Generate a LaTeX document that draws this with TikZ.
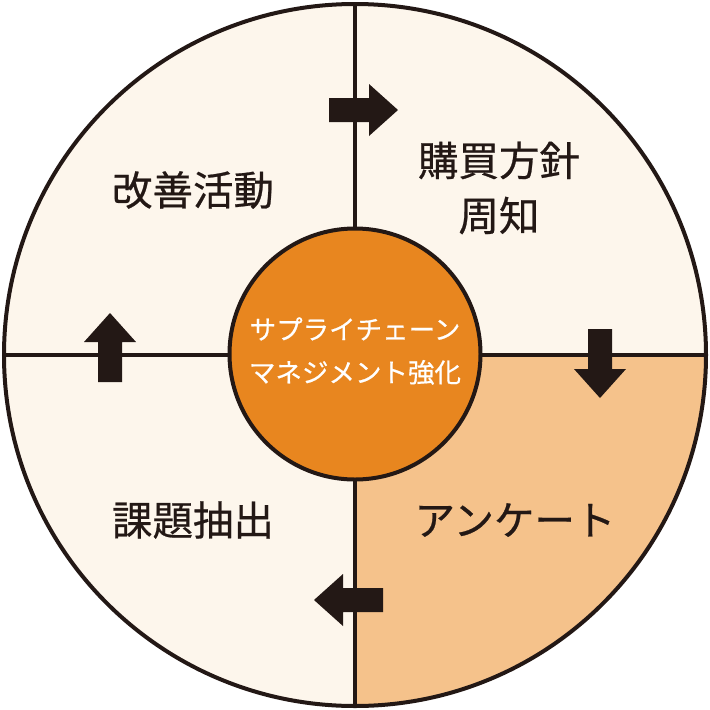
\documentclass[tikz,border=0pt]{standalone}
\usepackage{fontspec}
\setmainfont{Noto Sans CJK JP}
\newfontfamily\medfont{Noto Sans CJK JP}[FakeBold=0.6]
\definecolor{cream}{HTML}{FDF6EC}
\definecolor{peach}{HTML}{F5C28B}
\definecolor{core}{HTML}{E8861F}
\definecolor{ink}{HTML}{231815}
\tikzset{
  lbl/.style={text=ink, font=\medfont\fontsize{40.5}{55}\selectfont, align=center, inner sep=0pt},
  corelbl/.style={text=white, font=\medfont\fontsize{26.5}{43}\selectfont, align=center, inner sep=0pt},
  blk/.style={fill=ink, draw=none},
  rim/.style={draw=ink, line width=4pt},
  divider/.style={draw=ink, line width=4pt}
}
\begin{document}
\begin{tikzpicture}[x=1pt,y=-1pt]
\useasboundingbox (0,0) rectangle (710,710);
\coordinate (c) at (355,355);
% quadrants
\fill[cream] (c) circle[radius=351];
\begin{scope}
  \clip (c) circle[radius=351];
  \fill[peach] (355,355) rectangle (720,720);
\end{scope}
% dividers
\draw[divider] (355,4) -- (355,706);
\draw[divider] (4,355) -- (706,355);
\draw[rim] (c) circle[radius=351];
% core
\node[circle, fill=core, draw=ink, line width=4pt, minimum size=251pt, inner sep=0pt] (core) at (355,354) {};
\node[corelbl] (coretext) at (355,351) {サプライチェーン\\マネジメント強化};
% arrows
\fill[blk] (329,98) -- (369,98) -- (369,84) -- (398,110) -- (369,136) -- (369,122) -- (329,122) -- cycle;
\fill[blk] (588,329) -- (612,329) -- (612,369) -- (626,369) -- (600,398) -- (574,369) -- (588,369) -- cycle;
\fill[blk] (383,588) -- (343,588) -- (343,574) -- (314,600) -- (343,626) -- (343,612) -- (383,612) -- cycle;
\fill[blk] (98,382) -- (98,342) -- (84,342) -- (110,313) -- (136,342) -- (122,342) -- (122,382) -- cycle;
% labels
\node[lbl] (kaizen) at (193,190) {改善活動};
\node[lbl] (kobai) at (499,188) {購買方針\\周知};
\node[lbl] (kadai) at (193,520) {課題抽出};
\node[lbl] (enq) at (515,520) {アンケート};
\end{tikzpicture}
\end{document}
